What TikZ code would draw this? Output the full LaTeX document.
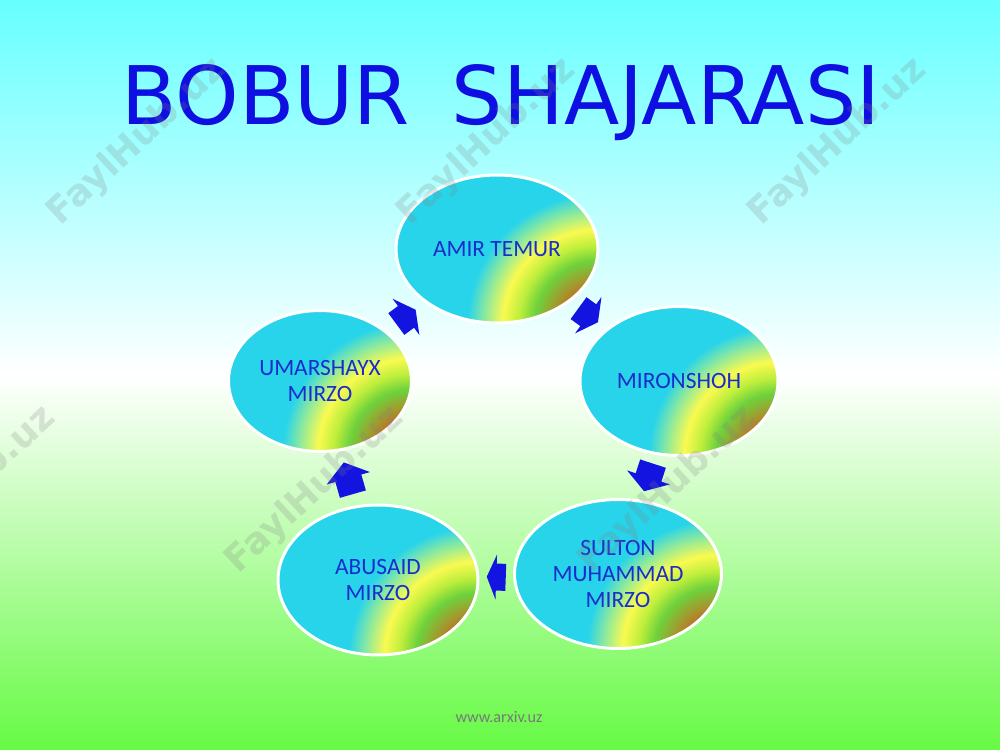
\documentclass[tikz,border=0pt]{standalone}
\usepackage{fontspec}
\setmainfont{Carlito}
\newfontfamily\titlefont{DejaVu Sans}
\usetikzlibrary{shapes.geometric}

\definecolor{bgtop}{RGB}{102,255,255}
\definecolor{bgbot}{RGB}{102,250,68}
\definecolor{ovalcyan}{RGB}{40,212,234}
\definecolor{labelblue}{RGB}{25,45,205}
\definecolor{titleblue}{RGB}{15,15,225}
\definecolor{arrowblue}{RGB}{20,20,225}
\definecolor{webgray}{RGB}{120,120,120}
\definecolor{rbrown}{RGB}{195,100,40}
\definecolor{rorange}{RGB}{165,150,45}
\definecolor{rgreen}{RGB}{110,210,60}
\definecolor{rlime}{RGB}{190,238,60}
\definecolor{ryellow}{RGB}{250,250,80}
\definecolor{rpale}{RGB}{150,235,150}

% rainbow corner of every oval
\pgfdeclareradialshading{rainbow}{\pgfpoint{0bp}{0bp}}{color(0bp)=(rbrown); color(3.7bp)=(rbrown); color(5.5bp)=(rorange); color(7.8bp)=(rgreen); color(9.7bp)=(rlime); color(11.7bp)=(ryellow); color(13.8bp)=(rpale); color(16.1bp)=(ovalcyan); color(50bp)=(ovalcyan)}

% block arrow: #1 = where, #2 = angle, #3 = half length (px)
\newcommand{\blockarrow}[3]{%
  \fill[arrowblue,shift={(#1)},rotate=#2,x=0.02cm,y=0.02cm]
    (#3,0) -- (0,22.5) -- (0,13.5) -- (-#3,13.5) -- (-#3,-13.5) -- (0,-13.5) -- (0,-22.5) -- cycle;}

\begin{document}
\begin{tikzpicture}[x=0.02cm,y=-0.02cm,
    oval/.style={shape=ellipse,draw=white,line width=1.7pt,fill=ovalcyan,inner sep=0pt,
        text=labelblue,align=center,font=\fontsize{13.3}{14.7}\selectfont,
        path picture={\shade[shading=rainbow] (path picture bounding box.south east) circle (4cm);}},
    wmark/.style={text=gray,text opacity=0.22,rotate=43,
        font=\titlefont\bfseries\fontsize{20.8}{21}\selectfont}]
    \useasboundingbox (0,0) rectangle (1000,750);
    \clip (0,0) rectangle (1000,750);
    \shade[top color=bgtop,bottom color=bgbot,middle color=white] (0,0) rectangle (1000,750);

    \node[font=\titlefont\fontsize{46}{46}\selectfont,text=titleblue,anchor=base] (title) at (501,125) {BOBUR~\hspace{0.2em}SHAJARASI};

    \node[oval,minimum width=4.04cm,minimum height=2.96cm] (amir) at (497,249) {AMIR TEMUR};
    \node[oval,minimum width=3.96cm,minimum height=2.98cm] (miron) at (679,381) {MIRONSHOH};
    \node[oval,minimum width=4.14cm,minimum height=2.98cm] (sulton) at (618,574) {SULTON\\MUHAMMAD\\MIRZO};
    \node[oval,minimum width=4cm,minimum height=3cm] (abusaid) at (378,580) {ABUSAID\\MIRZO};
    \node[oval,minimum width=3.66cm,minimum height=2.82cm] (umar) at (320,381) {UMARSHAYX\\MIRZO};

    % arrows half way between the ovals
    \path (amir) -- coordinate[midway] (m1) (miron);
    \path (miron) -- coordinate[midway] (m2) (sulton);
    \path (sulton) -- coordinate[midway] (m3) (abusaid);
    \path (abusaid) -- coordinate[midway] (m4) (umar);
    \path (umar) -- coordinate[midway] (m5) (amir);
    \blockarrow{m1}{-36}{12}
    \blockarrow{m2}{-108}{14.5}
    \blockarrow{m3}{178}{9.5}
    \blockarrow{m4}{106}{16.5}
    \blockarrow{m5}{36.5}{12}

    \node[font=\fontsize{9.2}{10}\selectfont,text=webgray] (web) at (499,717) {www.arxiv.uz};

    \foreach \wx/\wy [count=\i] in {137/142,487/142,838/142,-33/490,315/490,668/490}
        \node[wmark] (wm\i) at (\wx,\wy) {FaylHub.uz};
\end{tikzpicture}
\end{document}
